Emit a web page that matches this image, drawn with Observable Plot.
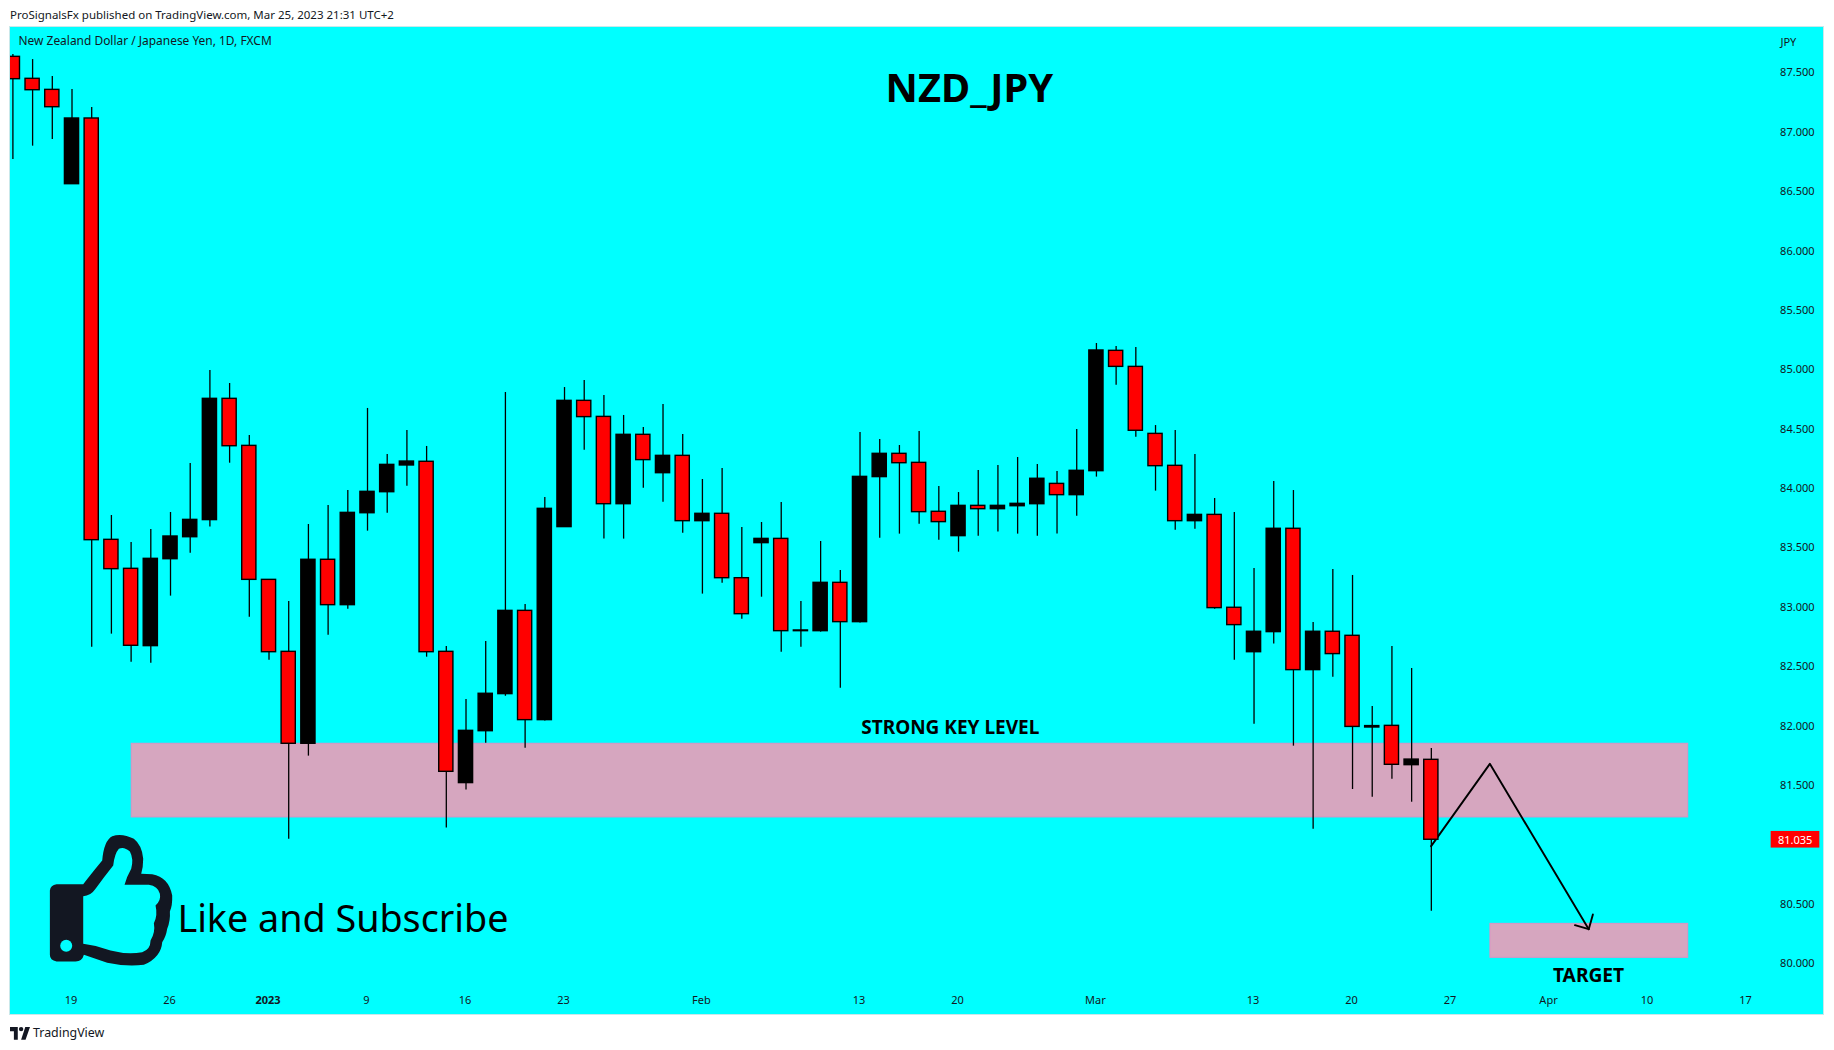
<!DOCTYPE html>
<html>
<head>
<meta charset="utf-8">
<script src="https://cdn.jsdelivr.net/npm/d3@7"></script>
<script src="https://cdn.jsdelivr.net/npm/@observablehq/plot@0.6"></script>
<style>
html,body{margin:0;padding:0;background:#fff;overflow:hidden}
body{width:1834px;height:1050px;font-family:"Noto Sans",sans-serif;color:#131722}
#head{height:27px;padding-left:10px;font-size:11.5px;line-height:29px;box-sizing:border-box;white-space:nowrap}
#chart svg{display:block;margin-left:10px;outline:1px solid #c9e8ea;background:#00ffff}
#foot{display:flex;align-items:center;height:36px;padding-left:10px;font-size:12.4px;box-sizing:border-box;gap:3px;padding-top:1px}
</style>
</head>
<body>
<div id="head">ProSignalsFx published on TradingView.com, Mar 25, 2023 21:31 UTC+2</div>
<div id="chart"></div>
<div id="foot"><svg width="20" height="16" viewBox="0 0 36 28" fill="#131722"><path d="M14 26H7V11H0V3h14v23zM28 26h-8l7.5-23h8.5L28 26z"/><circle cx="20" cy="7" r="4"/></svg><span>TradingView</span></div>
<script>
const open = [87.626,87.441,87.348,86.554,87.107,83.560,83.316,82.665,83.397,83.582,83.726,84.747,84.351,83.223,82.617,81.843,83.392,83.010,83.784,83.961,84.186,84.217,82.617,81.512,81.949,82.261,82.962,82.042,83.667,84.730,84.595,83.860,84.444,84.121,84.267,83.717,83.779,83.237,83.532,83.568,82.791,82.791,83.198,82.867,84.088,84.284,84.208,83.796,83.591,83.846,83.818,83.843,83.860,84.031,83.936,84.138,85.151,85.016,84.452,84.183,83.717,83.770,82.988,82.614,82.783,83.653,82.463,82.786,82.752,81.980,81.994,81.663,81.708];
const close = [87.438,87.345,87.202,87.107,83.557,83.313,82.668,83.400,83.588,83.728,84.747,84.348,83.223,82.614,81.843,83.392,83.010,83.787,83.964,84.191,84.219,82.614,81.607,81.952,82.264,82.962,82.042,83.821,84.730,84.593,83.860,84.444,84.231,84.267,83.717,83.779,83.237,82.934,83.568,82.791,82.797,83.198,82.867,84.090,84.284,84.205,83.793,83.709,83.846,83.818,83.846,83.863,84.074,83.936,84.141,85.154,85.016,84.478,84.180,83.717,83.770,82.985,82.842,82.786,83.653,82.463,82.786,82.598,81.985,81.992,81.666,81.710,81.035];
const high = [87.645,87.603,87.460,87.351,87.199,83.765,83.538,83.647,83.790,84.203,84.985,84.876,84.438,83.223,83.041,83.689,83.849,83.975,84.666,84.278,84.480,84.346,82.662,82.216,82.704,84.800,83.016,83.916,84.842,84.901,84.775,84.607,84.506,84.699,84.447,84.068,84.160,83.664,83.706,83.874,83.041,83.546,83.302,84.464,84.405,84.354,84.472,84.009,83.958,84.144,84.186,84.253,84.194,84.135,84.489,85.213,85.187,85.179,84.522,84.480,84.278,83.908,83.790,83.319,84.051,83.975,82.864,83.310,83.260,82.157,82.662,82.477,81.803];
const low = [86.762,86.874,86.930,86.554,82.656,82.766,82.530,82.522,83.086,83.448,83.667,84.205,82.909,82.547,81.040,81.739,82.757,82.976,83.633,83.784,84.012,82.572,81.133,81.453,81.848,82.244,81.806,82.034,83.667,84.315,83.566,83.566,83.995,83.877,83.616,83.103,83.195,82.892,83.077,82.614,82.656,82.783,82.311,82.859,83.574,83.608,83.692,83.557,83.456,83.591,83.625,83.608,83.591,83.608,83.759,84.088,84.862,84.424,83.970,83.641,83.650,82.976,82.547,82.008,82.682,81.823,81.124,82.404,81.458,81.393,81.545,81.351,80.434];
const candles = d3.range(open.length);

const priceTicks = [80,80.5,81.5,82,82.5,83,83.5,84,84.5,85,85.5,86,86.5,87,87.5];
const dateIdx = [3,8,18,23,28,35,43,48,55,63,68,73,78,83,88];
const dateLbl = ["19","26","9","16","23","Feb","13","20","Mar","13","20","27","Apr","10","17"];
const yearIdx = [13];
const yearLbl = ["2023"];

const zones = [
  {x1:6.03,x2:85.04,y1:81.223,y2:81.843},
  {x1:75.0,x2:85.04,y1:80.041,y2:80.327}
];
const pathIdx = [71.99,74.97,79.99];
const pathPx = [80.981,81.674,80.282];
const headIdx = [79.29,79.99,80.2];
const headPx = [80.316,80.282,80.406];
const lastPrice = 81.035;

const thumbSvg = `<svg xmlns="http://www.w3.org/2000/svg" viewBox="0 0 450 450"><path fill="#131722" fill-rule="evenodd" d="M28,195 Q30,178 48,176 L128,176 Q160,135 185,105 Q190,45 215,32 Q245,22 280,40 Q305,60 308,100 Q308,125 302,145 L335,146 Q385,155 395,210 Q396,240 388,258 Q390,285 380,310 Q376,335 365,350 Q362,395 310,418 Q260,425 200,412 L130,388 Q125,408 105,408 L48,408 Q28,405 28,388 Z M128,212 L128,355 Q170,360 210,375 Q260,388 305,380 Q330,372 330,345 Q345,320 340,293 Q352,270 345,240 Q362,225 358,205 Q352,182 325,178 L252,178 Q258,155 272,130 Q280,100 268,78 Q250,62 235,70 Q222,85 218,120 Q190,155 165,190 Q150,212 128,212 Z"/><circle cx="77" cy="361" r="18" fill="#00ffff"/></svg>`;
const thumbSrc = "data:image/svg+xml," + encodeURIComponent(thumbSvg);

const tx = (s,x,y,o)=>Plot.text([s],{x:()=>x,y:()=>y,text:d=>d,lineAnchor:"middle",...o});

const chart = Plot.plot({
  width:1813,height:987,
  marginLeft:0,marginRight:48,marginTop:0,marginBottom:24,
  style:{background:"#00ffff",fontFamily:"'Noto Sans',sans-serif",overflow:"visible"},
  x:{type:"linear",domain:[-0.122,89.47]},
  y:{type:"linear",domain:[79.766,87.873]},
  marks:[
    Plot.rect(zones,{x1:"x1",x2:"x2",y1:"y1",y2:"y2",fill:"#d6a6bf",stroke:"#dc92c3",strokeWidth:1}),
    Plot.line(pathIdx.map((x,i)=>({x,y:pathPx[i]})),{x:"x",y:"y",stroke:"#000",strokeWidth:1.9}),
    Plot.line(headIdx.map((x,i)=>({x,y:headPx[i]})),{x:"x",y:"y",stroke:"#000",strokeWidth:1.9}),
    Plot.ruleX(candles,{x:i=>i,y1:i=>low[i],y2:i=>high[i],stroke:"#000",strokeWidth:1.3,clip:true}),
    Plot.rect(candles,{x1:i=>i-0.36,x2:i=>i+0.36,y1:i=>open[i],y2:i=>close[i],
      fill:i=>close[i]<open[i]?"#ff0000":"#000000",stroke:"#000",strokeWidth:1.4,clip:true}),
    Plot.axisY({anchor:"right",ticks:priceTicks,tickFormat:d=>d.toFixed(3),tickSize:0,tickPadding:4.6,dy:1,label:null,fontSize:11,fill:"#131722"}),
    Plot.axisX({ticks:dateIdx,tickFormat:d=>dateLbl[dateIdx.indexOf(d)],tickSize:0,tickPadding:5,dx:-1,dy:0.5,label:null,fontSize:11,fill:"#131722"}),
    Plot.axisX({ticks:yearIdx,tickFormat:d=>yearLbl[yearIdx.indexOf(d)],tickSize:0,tickPadding:5,dx:-1,dy:0.5,label:null,fontSize:11,fontWeight:"bold",fill:"#131722"}),
    Plot.text(["New Zealand Dollar / Japanese Yen, 1D, FXCM"],{frameAnchor:"top-left",dx:8,dy:9,text:d=>d,fontSize:11.95,fill:"#131722"}),
    tx("JPY",89.72,87.75,{textAnchor:"start",fontSize:11,fill:"#131722"}),
    tx("NZD_JPY",48.55,87.35,{fontSize:39.8,fontWeight:"bold",fill:"#000"}),
    tx("STRONG KEY LEVEL",47.58,81.975,{fontSize:19,fontWeight:"bold",fill:"#000"}),
    tx("TARGET",79.98,79.89,{fontSize:19.2,fontWeight:"bold",fill:"#000"}),
    tx("Like and Subscribe",8.35,80.36,{textAnchor:"start",fontSize:37.7,fill:"#000"}),
    Plot.image([thumbSrc],{src:d=>d,x:()=>5.21,y:()=>80.524,width:150,height:150}),
    Plot.rect([lastPrice],{x1:()=>89.25,x2:()=>91.72,y1:d=>d-0.07,y2:d=>d+0.07,fill:"#ff0000"}),
    tx(lastPrice.toFixed(3),90.47,lastPrice-0.008,{fontSize:11,fill:"#fff"})
  ]
});
document.getElementById("chart").appendChild(chart);
</script>
</body>
</html>
